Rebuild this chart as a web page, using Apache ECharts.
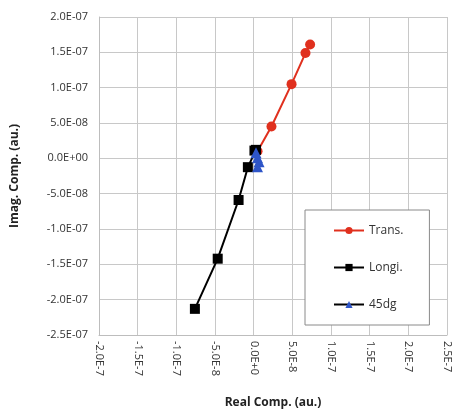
<!DOCTYPE html>
<html><head><meta charset="utf-8">
<script src="https://cdn.jsdelivr.net/npm/echarts@6/dist/echarts.min.js"></script>
<style>html,body{margin:0;padding:0;background:#fff;}#c{width:454px;height:414px;}</style>
</head><body><div id="c"></div>
<script>
const transX = [5e-9, 2.3e-8, 4.9e-8, 6.7e-8, 7.3e-8];
const transY = [1.0e-8, 4.5e-8, 1.05e-7, 1.49e-7, 1.61e-7];
const longiX = [3e-9, 1e-9, -7.5e-9, -1.95e-8, -4.65e-8, -7.6e-8];
const longiY = [1.2e-8, 1.1e-8, -1.25e-8, -5.9e-8, -1.42e-7, -2.13e-7];
const dgX = [3e-9, 5e-9, 7e-9, 5e-9];
const dgY = [8e-9, 1e-9, -5e-9, -1.2e-8];
const xTicks = ["-2.0E-7","-1.5E-7","-1.0E-7","-5.0E-8","0.0E+0","5.0E-8","1.0E-7","1.5E-7","2.0E-7","2.5E-7"];
const yTicks = ["-2.5E-07","-2.0E-07","-1.5E-07","-1.0E-07","-5.0E-08","0.0E+00","5.0E-08","1.0E-07","1.5E-07","2.0E-07"];
const xMin = -2e-7, xMax = 2.5e-7, yMin = -2.5e-7, yMax = 2e-7, step = 5e-8;

const pairs = (xs, ys) => xs.map((x, i) => [x, ys[i]]);
const font = 'Open Sans';
const chart = echarts.init(document.getElementById('c'), null, {renderer: 'canvas'});
chart.setOption({
  animation: false,
  backgroundColor: '#fff',
  grid: {left: 99, right: 7, top: 17, bottom: 79, containLabel: false},
  xAxis: {
    type: 'value', min: xMin, max: xMax, interval: step,
    name: 'Real Comp. (au.)', nameLocation: 'middle', nameGap: 62,
    nameTextStyle: {fontFamily: font, fontSize: 12, fontWeight: 'bold', color: '#222'},
    axisLine: {onZero: false, lineStyle: {color: '#bdbdbd'}},
    axisTick: {show: false},
    axisLabel: {rotate: -90, fontFamily: font, fontSize: 11, color: '#333', margin: 6,
      formatter: v => xTicks[Math.round((v - xMin) / step)]},
    splitLine: {lineStyle: {color: '#c8c8c8', width: 1}}
  },
  yAxis: {
    type: 'value', min: yMin, max: yMax, interval: step,
    name: 'Imag. Comp. (au.)', nameLocation: 'middle', nameGap: 78,
    nameTextStyle: {fontFamily: font, fontSize: 12, fontWeight: 'bold', color: '#222'},
    axisLine: {show: true, onZero: false, lineStyle: {color: '#bdbdbd'}},
    axisTick: {show: false},
    axisLabel: {fontFamily: font, fontSize: 11, color: '#333', margin: 11,
      formatter: v => yTicks[Math.round((v - yMin) / step)]},
    splitLine: {lineStyle: {color: '#c8c8c8', width: 1}}
  },
  legend: {
    orient: 'vertical', left: 305, top: 210,
    padding: [12, 26, 12, 28], itemGap: 20, itemWidth: 30, itemHeight: 9,
    backgroundColor: '#fff', borderColor: '#8a8a8a', borderWidth: 1,
    textStyle: {fontFamily: font, fontSize: 12, color: '#333', lineHeight: 17},
    data: ['Trans.', 'Longi.', '45dg']
  },
  series: [
    {name: 'Trans.', type: 'line', data: pairs(transX, transY), symbol: 'circle', symbolSize: 10,
      color: '#e0301e', lineStyle: {width: 2, color: '#e0301e'}, itemStyle: {color: '#e0301e'}},
    {name: 'Longi.', type: 'line', data: pairs(longiX, longiY), symbol: 'rect', symbolSize: 10,
      color: '#000', lineStyle: {width: 2, color: '#000'}, itemStyle: {color: '#000'}},
    {name: '45dg', type: 'line', data: pairs(dgX, dgY), symbol: 'triangle', symbolSize: 11,
      color: '#2e55c8', lineStyle: {width: 2, color: '#000'}, itemStyle: {color: '#2e55c8'}}
  ]
});
</script></body></html>
